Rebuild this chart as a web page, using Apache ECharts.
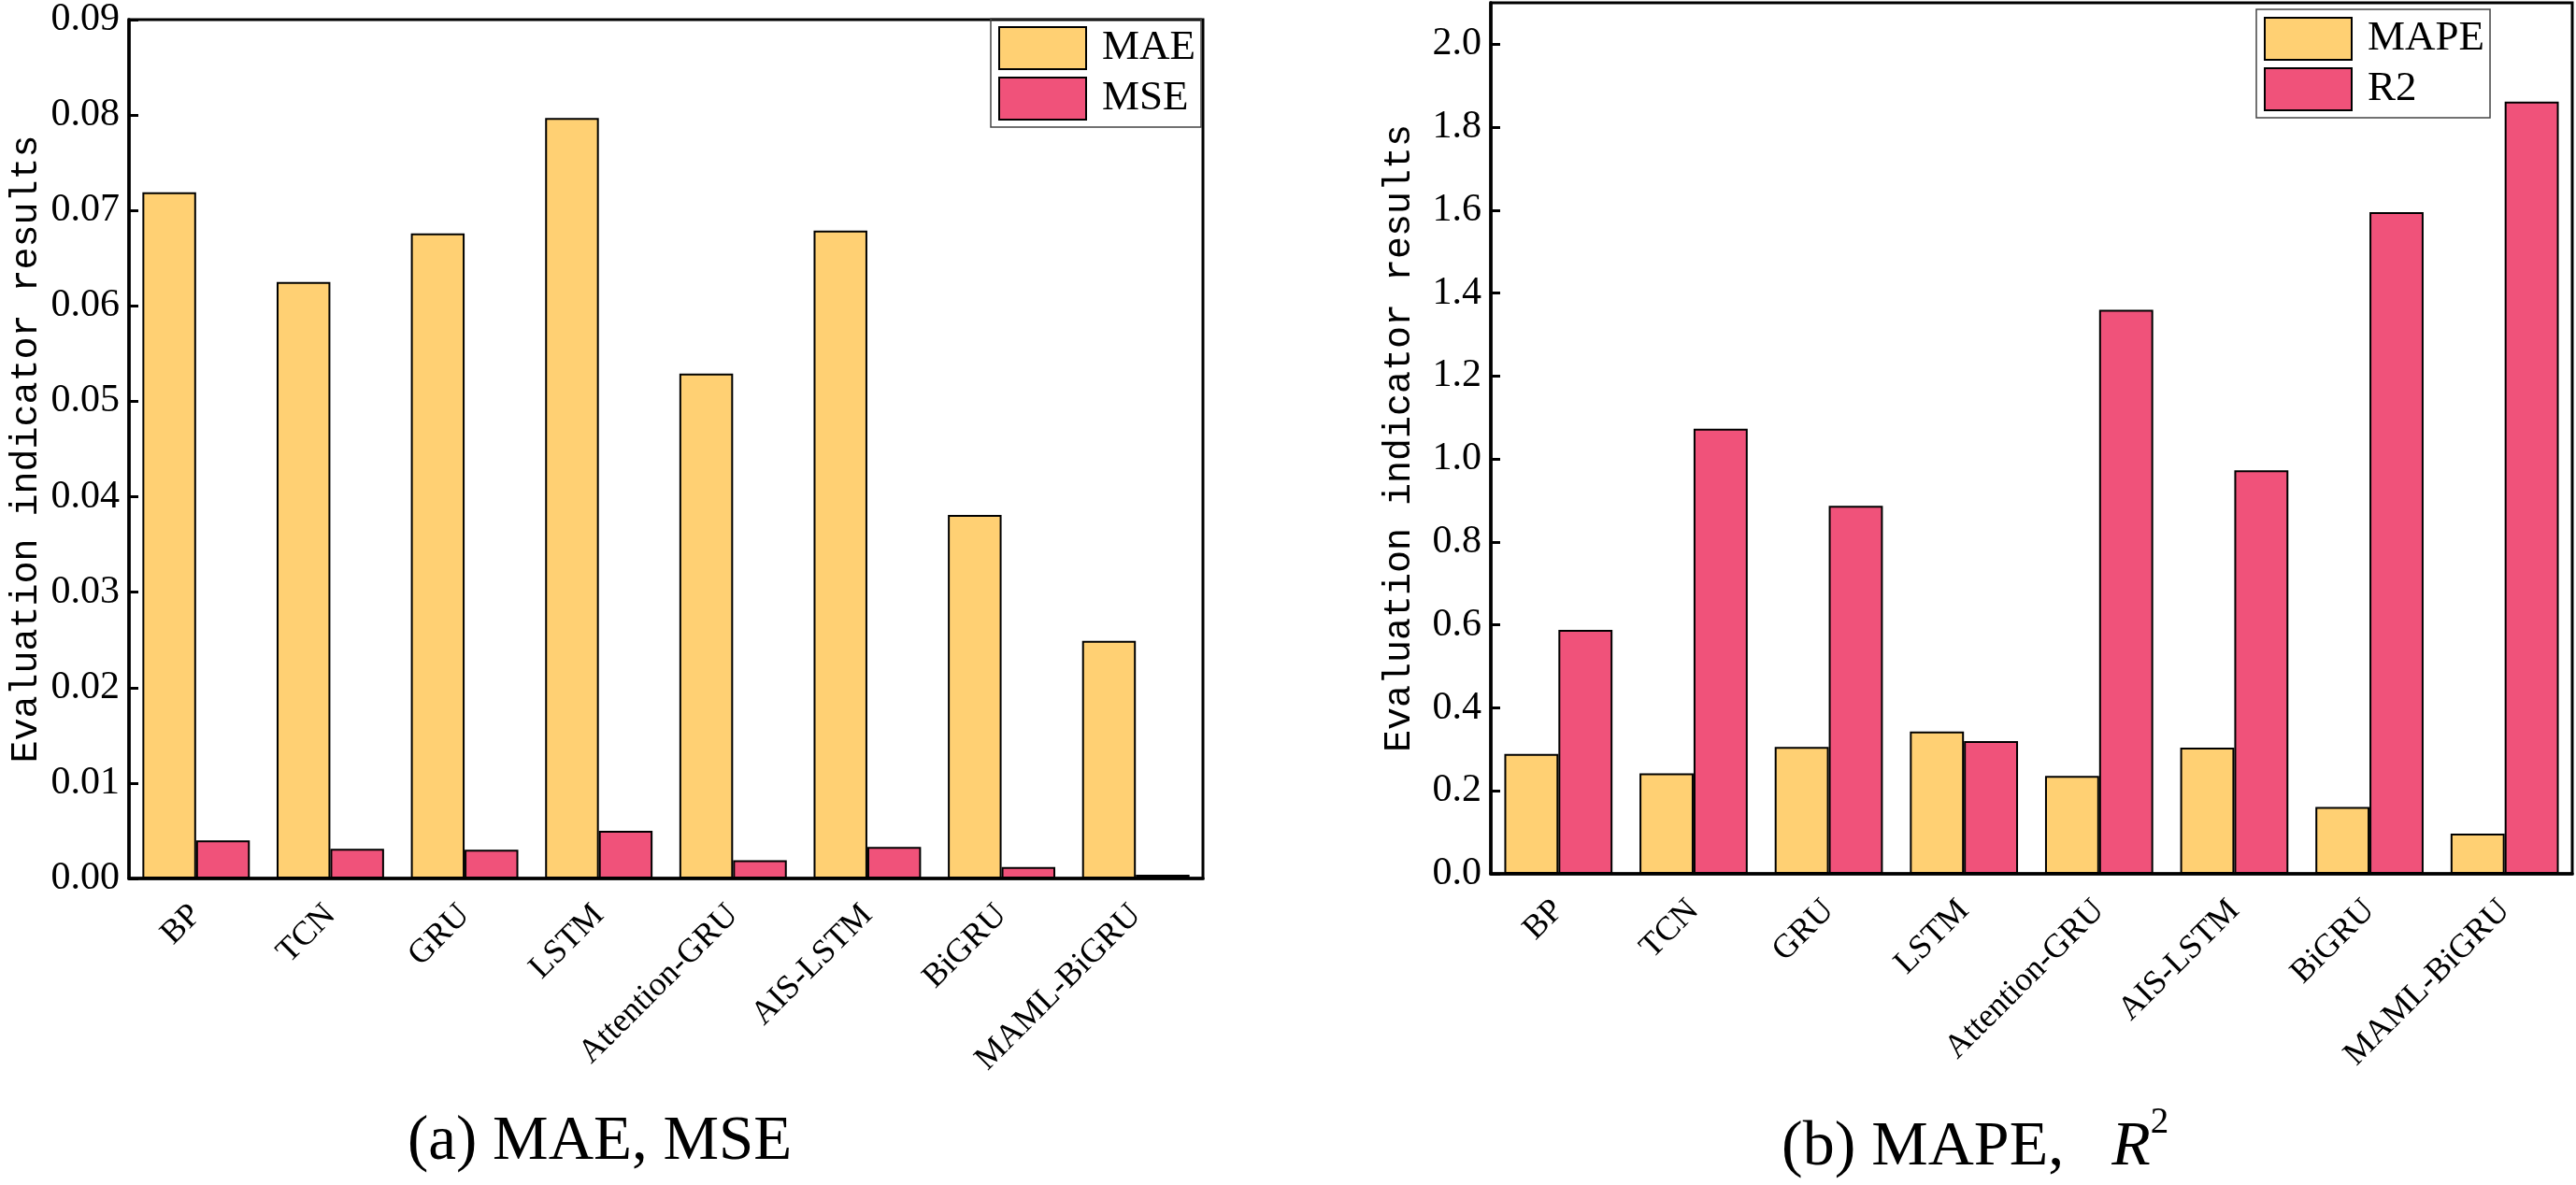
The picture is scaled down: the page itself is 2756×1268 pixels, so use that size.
<!DOCTYPE html>
<html>
<head>
<meta charset="utf-8">
<script src="https://cdn.jsdelivr.net/npm/echarts@6/dist/echarts.min.js"></script>
<style>
  html, body { margin: 0; padding: 0; background: #fff; }
  #chart { width: 2756px; height: 1268px; }
</style>
</head>
<body>
<div id="chart"></div>
<script>
// ---- data ----
const categories = ['BP', 'TCN', 'GRU', 'LSTM', 'Attention-GRU', 'AIS-LSTM', 'BiGRU', 'MAML-BiGRU'];
const maeValues  = [0.0719, 0.0625, 0.0676, 0.0797, 0.0529, 0.0679, 0.0381, 0.0249];
const mseValues  = [0.0040, 0.0031, 0.0030, 0.0050, 0.0019, 0.0033, 0.0012, 0.0004];
const mapeValues = [0.289, 0.242, 0.306, 0.343, 0.236, 0.304, 0.161, 0.097];
const r2Values   = [0.588, 1.073, 0.887, 0.320, 1.360, 0.973, 1.595, 1.862];
const leftAxisRange  = [0, 0.09, 0.01];   // min, max, interval
const rightAxisRange = [0, 2.1, 0.2];
const yTitle = 'Evaluation indicator results';
const captionA = '(a) MAE, MSE';

const YELLOW = '#FFD073';
const PINK = '#F0527A';
const tickFont = 'Liberation Serif';
const monoFont = 'Liberation Mono';

function yAxis(gridIndex, range, decimals, nameGap) {
  return {
    type: 'value', gridIndex: gridIndex,
    min: range[0], max: range[1], interval: range[2],
    name: yTitle, nameLocation: 'middle', nameGap: nameGap,
    nameTextStyle: { fontFamily: monoFont, fontSize: 40, color: '#000' },
    axisLine: { show: true, lineStyle: { color: '#000', width: 3.5 } },
    axisTick: { show: true, inside: true, length: 10, lineStyle: { color: '#000', width: 3 } },
    axisLabel: { fontFamily: tickFont, fontSize: 42, color: '#000', margin: 10,
                 showMaxLabel: decimals === 2,
                 formatter: v => v.toFixed(decimals) },
    splitLine: { show: false }
  };
}
function xAxis(gridIndex) {
  return {
    type: 'category', gridIndex: gridIndex, data: categories,
    axisLine: { show: true, lineStyle: { color: '#000', width: 3.5 } },
    axisTick: { show: false },
    axisLabel: { interval: 0, rotate: 45, margin: 34, fontFamily: tickFont, fontSize: 36, color: '#000' }
  };
}
function bar(name, data, color, idx) {
  return {
    name: name, type: 'bar', data: data, xAxisIndex: idx, yAxisIndex: idx,
    barWidth: '40%', barGap: '0%',
    itemStyle: { color: color, borderColor: '#000', borderWidth: 2 }
  };
}
function legend(names, left, top) {
  return {
    data: names, orient: 'vertical', left: left, top: top,
    itemWidth: 93, itemHeight: 45, itemGap: 7,
    padding: [8, 6, 7, 8],
    borderColor: '#444', borderWidth: 1.5,
    icon: 'rect',
    itemStyle: { borderColor: '#000', borderWidth: 2 },
    textStyle: { fontFamily: tickFont, fontSize: 45, color: '#000', padding: [0, 0, 0, 12] }
  };
}

const chart = echarts.init(document.getElementById('chart'), null, { renderer: 'canvas' });
chart.setOption({
  animation: false,
  backgroundColor: '#fff',
  grid: [
    { left: 138, right: 2756 - 1287, top: 17, bottom: 1268 - 940, show: true, borderColor: '#000', borderWidth: 3, containLabel: false },
    { left: 1595, right: 4, top: 3, bottom: 1268 - 935, show: true, borderColor: '#000', borderWidth: 3, containLabel: false }
  ],
  xAxis: [xAxis(0), xAxis(1)],
  yAxis: [yAxis(0, leftAxisRange, 2, 90), yAxis(1, rightAxisRange, 1, 78)],
  legend: [legend(['MAE', 'MSE'], 1060, 20), legend(['MAPE', 'R2'], 2414, 10)],
  series: [
    bar('MAE', maeValues, YELLOW, 0),
    bar('MSE', mseValues, PINK, 0),
    bar('MAPE', mapeValues, YELLOW, 1),
    bar('R2', r2Values, PINK, 1)
  ],
  graphic: [
    { type: 'text', left: 436, top: 1189,
      style: { text: captionA, fontFamily: tickFont, fontSize: 67, fill: '#000' } },
    { type: 'text', left: 1906, top: 1182,
      style: {
        text: '{n|(b) MAPE,   }{i|R}{s|2}',
        rich: {
          n: { fontFamily: tickFont, fontSize: 68, fill: '#000', lineHeight: 80, verticalAlign: 'bottom' },
          i: { fontFamily: tickFont, fontSize: 68, fontStyle: 'italic', fill: '#000', lineHeight: 80, verticalAlign: 'bottom' },
          s: { fontFamily: tickFont, fontSize: 39, fill: '#000', lineHeight: 80, verticalAlign: 'top' }
        }
      } }
  ]
});
</script>
</body>
</html>
